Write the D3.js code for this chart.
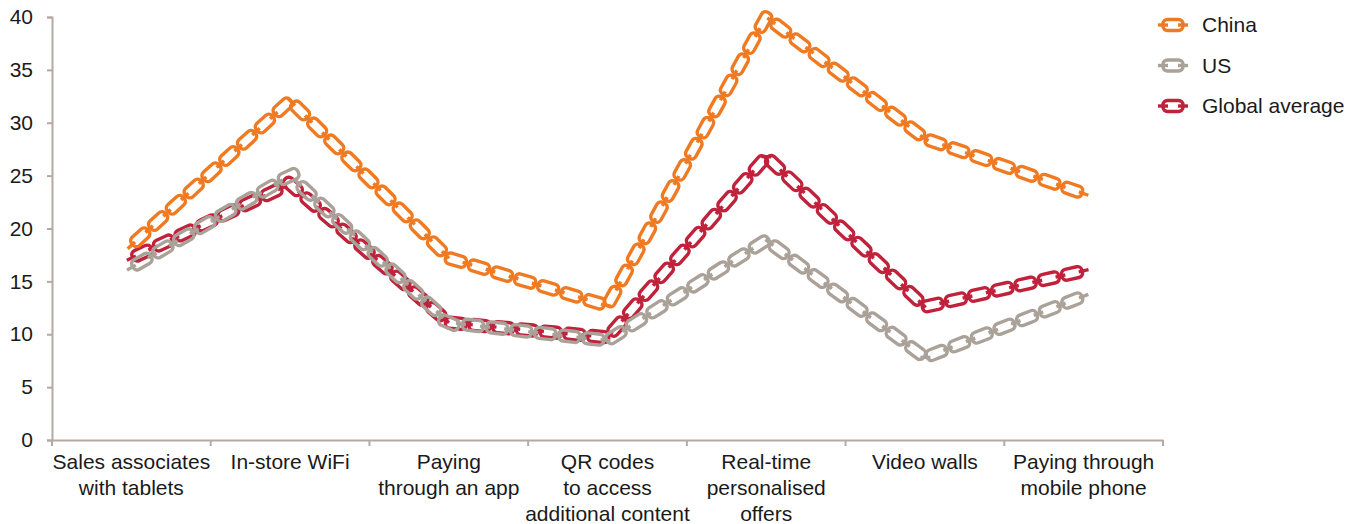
<!DOCTYPE html>
<html lang="en">
<head>
<meta charset="UTF-8">
<title>In-store technology</title>
<script src="https://d3js.org/d3.v7.min.js"></script>
<style>
  body { margin: 0; background: #fff; }
  svg text { font-family: "Liberation Sans", Arial, Helvetica, sans-serif; fill: #1a1a1a; }
</style>
</head>
<body>
<svg width="1358" height="524"></svg>
<script>
const categories = [
  ["Sales associates", "with tablets"],
  ["In-store WiFi"],
  ["Paying", "through an app"],
  ["QR codes", "to access", "additional content"],
  ["Real-time", "personalised", "offers"],
  ["Video walls"],
  ["Paying through", "mobile phone"]
];
const seriesNames = ["China", "US", "Global average"];
const china = [18.4, 32.1, 17.2, 12.7, 40.0, 28.5, 23.3];
const us = [16.3, 25.0, 11.1, 9.4, 18.9, 7.8, 13.6];
const globalAvg = [17.2, 24.2, 11.1, 9.7, 26.8, 12.6, 16.0];
const yTicks = [0, 5, 10, 15, 20, 25, 30, 35, 40];

const colors = { "China": "#f07a22", "US": "#aaa198", "Global average": "#c0213b" };
const axisColor = "#b5aaa1";
const fontSize = 21;

const svg = d3.select("svg");

const x = d3.scaleBand()
  .domain(d3.range(categories.length))
  .range([52, 1163]);

const y = d3.scaleLinear()
  .domain([0, 40])
  .range([440, 17]);

// y axis
const yAxis = svg.append("g")
  .attr("transform", "translate(52,0)")
  .call(d3.axisLeft(y).tickValues(yTicks).tickSize(5).tickPadding(14));
yAxis.select(".domain").attr("stroke", axisColor).attr("stroke-width", 2);
yAxis.selectAll(".tick line").attr("stroke", axisColor).attr("stroke-width", 2);
yAxis.selectAll(".tick text").attr("font-size", fontSize).attr("fill", "#1a1a1a")
  .style("font-family", "'Liberation Sans', Arial, sans-serif");

// x axis
const xAxis = svg.append("g")
  .attr("transform", "translate(0,440)")
  .call(d3.axisBottom(x).tickSize(0).tickFormat(""));
xAxis.select(".domain").attr("stroke", axisColor).attr("stroke-width", 2);
xAxis.selectAll(".tick").remove();

const bounds = d3.range(categories.length + 1).map(i => i === categories.length ? x.range()[1] : x(i));
svg.append("g").selectAll("line")
  .data(bounds)
  .join("line")
  .attr("x1", d => d).attr("x2", d => d)
  .attr("y1", 440).attr("y2", 446)
  .attr("stroke", axisColor).attr("stroke-width", 2);

const labels = svg.append("g").selectAll("text")
  .data(categories)
  .join("text")
  .attr("font-size", fontSize)
  .attr("text-anchor", "middle")
  .attr("x", (d, i) => x(i) + x.bandwidth() / 2)
  .attr("y", 469);
labels.selectAll("tspan")
  .data(d => d)
  .join("tspan")
  .attr("x", function () { return this.parentNode.getAttribute("x"); })
  .attr("dy", (d, i) => i === 0 ? 0 : 26)
  .text(d => d);

// chain drawing
const P = 24;      // pitch between link joints
const linkLen = 21;
const linkW = 11;
const sw = 3.4;

function drawChain(g, pathD, color) {
  const tmp = g.append("path").attr("d", pathD).attr("fill", "none").attr("stroke", "none");
  const node = tmp.node();
  const total = node.getTotalLength();
  const pt = s => node.getPointAtLength(Math.max(0, Math.min(total, s)));
  const angleAt = s => {
    const a = pt(s - 2), b = pt(s + 2);
    return Math.atan2(b.y - a.y, b.x - a.x) * 180 / Math.PI;
  };
  const n = Math.max(1, Math.round(total / P));
  const step = total / n;
  for (let i = 0; i < n; i++) {
    const s = i * step + step / 2;
    const c = pt(s);
    g.append("rect")
      .attr("x", -linkLen / 2).attr("y", -linkW / 2)
      .attr("width", linkLen).attr("height", linkW)
      .attr("rx", linkW / 2 - 1).attr("ry", linkW / 2 - 1)
      .attr("fill", "none").attr("stroke", color).attr("stroke-width", sw)
      .attr("transform", `translate(${c.x},${c.y}) rotate(${angleAt(s)})`);
  }
  for (let i = 0; i <= n; i++) {
    const s = i * step;
    const c = pt(s);
    g.append("line")
      .attr("x1", -5).attr("x2", 5).attr("y1", 0).attr("y2", 0)
      .attr("stroke", color).attr("stroke-width", sw)
      .attr("transform", `translate(${c.x},${c.y}) rotate(${angleAt(s)})`);
  }
  tmp.remove();
}

const line = d3.line()
  .x((d, i) => x(i) + x.bandwidth() / 2)
  .y(d => y(d));

const seriesData = { "China": china, "US": us, "Global average": globalAvg };
const chart = svg.append("g");
["Global average", "US", "China"].forEach(name => {
  drawChain(chart.append("g"), line(seriesData[name]), colors[name]);
});

// legend
const legend = svg.append("g");
seriesNames.forEach((name, i) => {
  const cy = 25 + i * 40.5;
  const g = legend.append("g");
  g.append("rect")
    .attr("x", 1163).attr("y", cy - 5.5)
    .attr("width", 20).attr("height", 11)
    .attr("rx", 4.5).attr("ry", 4.5)
    .attr("fill", "none").attr("stroke", colors[name]).attr("stroke-width", sw);
  g.append("line").attr("x1", 1158).attr("x2", 1168).attr("y1", cy).attr("y2", cy)
    .attr("stroke", colors[name]).attr("stroke-width", sw);
  g.append("line").attr("x1", 1178).attr("x2", 1188).attr("y1", cy).attr("y2", cy)
    .attr("stroke", colors[name]).attr("stroke-width", sw);
  g.append("text")
    .attr("x", 1202).attr("y", cy + 7)
    .attr("font-size", fontSize)
    .text(name);
});
</script>
</body>
</html>
